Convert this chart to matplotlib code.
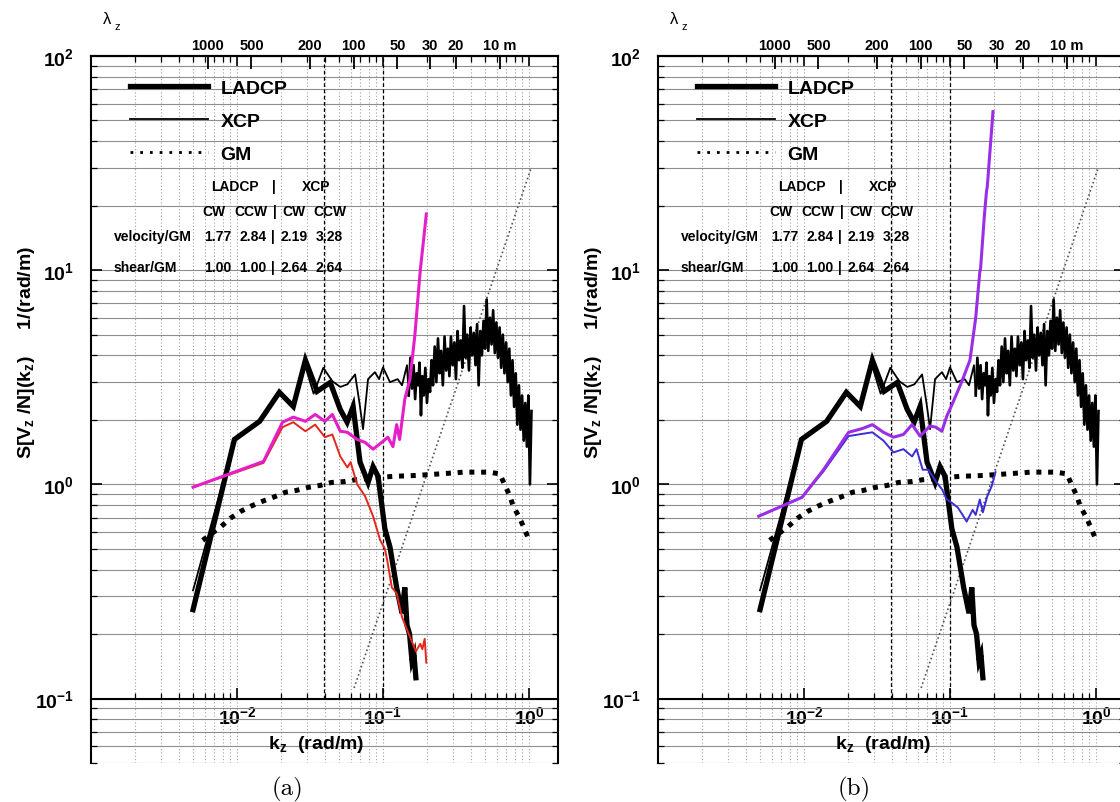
import numpy as np
import matplotlib.pyplot as plt
from matplotlib.lines import Line2D
from matplotlib.ticker import LogLocator, NullFormatter, NullLocator

plt.rcParams['font.family'] = ['Liberation Sans', 'DejaVu Sans']
plt.rcParams['font.weight'] = 'bold'
plt.rcParams['mathtext.fontset'] = 'custom'
plt.rcParams['mathtext.rm'] = 'Liberation Sans:bold'
plt.rcParams['mathtext.it'] = 'Liberation Sans:bold'
plt.rcParams['mathtext.bf'] = 'Liberation Sans:bold'
plt.rcParams['mathtext.default'] = 'rm'

# ---- data ----
# LADCP (thick black), same in both panels
k_ladcp = [0.0050, 0.0096, 0.0143, 0.0195, 0.0243, 0.0294, 0.0354, 0.0435, 0.0509,
           0.0568, 0.0624, 0.0696, 0.079, 0.0855, 0.0925, 0.103, 0.1116, 0.124,
           0.135, 0.141, 0.146, 0.152, 0.158, 0.163, 0.168]
s_ladcp = [0.26, 1.62, 1.97, 2.69, 2.31, 3.8, 2.72, 2.99, 2.24,
           1.95, 2.31, 1.27, 1.02, 1.21, 1.09, 0.62, 0.51, 0.33,
           0.25, 0.33, 0.22, 0.20, 0.15, 0.16, 0.125]

# XCP (thin black), low wavenumber part
k_xcp_low = [0.0050, 0.0096, 0.0143, 0.0195, 0.0243, 0.0294, 0.0335, 0.039, 0.045,
             0.051, 0.057, 0.0644, 0.069, 0.073, 0.079, 0.088, 0.094, 0.100,
             0.1116, 0.126, 0.135, 0.146, 0.150]
s_xcp_low = [0.32, 1.60, 1.95, 2.65, 2.35, 3.55, 2.65, 3.50, 3.03,
             2.85, 2.93, 3.26, 2.4, 1.81, 3.1, 3.34, 3.1, 3.52,
             3.0, 3.1, 2.9, 3.6, 2.6]
# XCP, noisy high wavenumber part
k_xcp_high = [0.150, 0.154, 0.158, 0.162, 0.166, 0.170, 0.174, 0.178, 0.182, 0.186,
              0.190, 0.195, 0.200, 0.205, 0.210, 0.215, 0.220, 0.226, 0.232, 0.238,
              0.244, 0.250, 0.257, 0.264, 0.271, 0.278, 0.285, 0.292, 0.300, 0.308,
              0.316, 0.324, 0.332, 0.341, 0.350, 0.359, 0.368, 0.378, 0.388, 0.398,
              0.408, 0.419, 0.430, 0.441, 0.452, 0.464, 0.476, 0.488, 0.500, 0.513,
              0.526, 0.540, 0.554, 0.568, 0.583, 0.598, 0.613, 0.629, 0.645, 0.662,
              0.679, 0.697, 0.715, 0.733, 0.752, 0.771, 0.791, 0.811, 0.832, 0.853,
              0.875, 0.897, 0.920, 0.943, 0.967, 0.990, 1.015, 1.040]
s_xcp_high = [2.6, 3.9, 2.8, 3.6, 2.5, 3.3, 2.9, 3.7, 2.1, 3.2,
              2.6, 3.5, 2.4, 3.1, 2.7, 3.8, 2.9, 4.4, 3.0, 4.8,
              3.3, 4.2, 2.9, 4.9, 3.4, 4.3, 3.2, 4.9, 3.6, 4.6,
              3.1, 5.2, 3.8, 4.7, 3.5, 6.8, 3.9, 5.0, 3.4, 5.4,
              4.0, 5.1, 3.6, 5.6, 2.9, 5.2, 4.0, 5.8, 4.3, 7.3,
              4.2, 6.0, 4.5, 6.5, 4.1, 5.7, 3.9, 5.4, 3.5, 5.0,
              3.3, 4.6, 3.0, 4.3, 2.6, 3.8, 2.3, 3.3, 1.9, 2.9,
              1.8, 2.6, 1.6, 2.4, 1.5, 2.6, 1.0, 2.2]

# GM model spectrum
k_gm = [0.00582, 0.0078, 0.0090, 0.0106, 0.0124, 0.0149, 0.0177, 0.0214, 0.0255,
        0.0308, 0.0372, 0.0442, 0.0542, 0.0644, 0.085, 0.117, 0.168, 0.249,
        0.357, 0.53, 0.63, 0.68, 0.74, 0.78, 0.86, 0.93, 1.0]
s_gm = [0.548, 0.636, 0.694, 0.748, 0.79, 0.833, 0.87, 0.918, 0.937,
        0.968, 0.989, 1.02, 1.03, 1.05, 1.07, 1.09, 1.10, 1.12,
        1.14, 1.14, 1.12, 1.0, 0.88, 0.79, 0.70, 0.62, 0.55]

# k^2 reference line
k_k2 = [0.0634, 1.04]
s_k2 = [0.112, 30.3]

# vertical marker wavenumbers
k_marks = [0.0395, 0.1]

# panel (a) coloured spectra
k_mag_a = [0.0050, 0.0152, 0.0205, 0.0243, 0.0294, 0.0343, 0.040, 0.045, 0.051,
           0.057, 0.0665, 0.0754, 0.0855, 0.098, 0.108, 0.117, 0.124, 0.130,
           0.141, 0.153, 0.165, 0.180, 0.190, 0.198]
s_mag_a = [0.97, 1.28, 1.95, 2.06, 1.97, 2.12, 1.97, 2.12, 1.77,
           1.75, 1.62, 1.57, 1.46, 1.57, 1.66, 1.5, 1.9, 1.62,
           2.5, 3.1, 4.9, 10.0, 14.0, 18.3]
k_red_a = [0.0050, 0.0152, 0.0205, 0.0243, 0.0294, 0.0343, 0.040, 0.045, 0.051,
           0.057, 0.060, 0.0665, 0.0754, 0.0855, 0.0955, 0.103, 0.107, 0.115,
           0.124, 0.135, 0.146, 0.155, 0.168, 0.180, 0.186, 0.193, 0.198]
s_red_a = [0.97, 1.26, 1.85, 1.95, 1.77, 1.9, 1.66, 1.71, 1.35,
           1.2, 1.27, 1.0, 0.88, 0.71, 0.55, 0.5, 0.44, 0.33,
           0.31, 0.24, 0.21, 0.19, 0.166, 0.18, 0.17, 0.19, 0.147]

# panel (b) coloured spectra
k_pur_b = [0.0049, 0.0097, 0.0136, 0.0202, 0.0250, 0.0294, 0.035, 0.041, 0.048,
           0.055, 0.0624, 0.073, 0.080, 0.088, 0.095, 0.105, 0.12, 0.137,
           0.150, 0.160, 0.162, 0.172, 0.178, 0.180, 0.197]
s_pur_b = [0.71, 0.87, 1.17, 1.75, 1.82, 1.9, 1.75, 1.66, 1.71,
           1.9, 1.68, 1.87, 1.85, 1.77, 2.08, 2.42, 3.0, 3.8,
           6.0, 9.8, 10.2, 18.0, 23.5, 24.5, 55.0]
k_blu_b = [0.0049, 0.0097, 0.0136, 0.0202, 0.0250, 0.0294, 0.035, 0.041, 0.048,
           0.055, 0.059, 0.065, 0.071, 0.081, 0.088, 0.095, 0.103, 0.113,
           0.122, 0.130, 0.143, 0.150, 0.160, 0.168, 0.180, 0.193, 0.205]
s_blu_b = [0.71, 0.87, 1.15, 1.68, 1.72, 1.75, 1.6, 1.41, 1.46,
           1.35, 1.46, 1.17, 1.17, 1.02, 0.95, 0.85, 0.82, 0.78,
           0.72, 0.67, 0.76, 0.72, 0.85, 0.74, 0.88, 0.98, 1.14]

# axes ticks and labels
k_major = [0.01, 0.1, 1.0]
k_major_labels = ['10$^{-2}$', '10$^{-1}$', '10$^{0}$']
s_major = [0.1, 1.0, 10.0, 100.0]
s_major_labels = ['10$^{-1}$', '10$^{0}$', '10$^{1}$', '10$^{2}$']
lam_ticks = [1000, 500, 200, 100, 50, 30, 20, 10]
lam_labels = ['1000', '500', '200', '100', '50', '30', '20', '10 m']

legend_labels = ['LADCP', 'XCP', 'GM']
table_head = ['LADCP', '|', 'XCP']
table_sub = ['CW', 'CCW', '|', 'CW', 'CCW']
row_names = ['velocity/GM', 'shear/GM']
ratios = [['1.77', '2.84', '2.19', '3.28'], ['1.00', '1.00', '2.64', '2.64']]

# ---- figure ----
W, H = 1120, 803
fig = plt.figure(figsize=(W / 100, H / 100), dpi=100)


def fx(px):
    return px / W


def fy(py):
    return 1 - py / H


AX_TOP, AX_BOT, AX_W = 57, 764, 467


def draw_panel(x0, coloured, caption):
    ax = fig.add_axes([fx(x0), fy(AX_BOT), AX_W / W, (AX_BOT - AX_TOP) / H])
    ax.set_xscale('log')
    ax.set_yscale('log')

    # grid: solid grey horizontals, dotted vertical lines
    ax.grid(True, which='both', axis='y', color='#8e8e8e', lw=0.8, ls='-')
    ax.grid(True, which='both', axis='x', color='#a0a0a0', lw=0.8, ls=(0, (1, 2)))
    ax.set_axisbelow(True)

    ax.vlines(k_marks, 0.1, 100, colors='k', lw=0.9, linestyles=(0, (3, 2)), zorder=2)
    ax.plot(k_k2, s_k2, color='#555555', lw=1.2, ls=(0, (1, 1.6)), zorder=2)
    ax.plot(k_gm, s_gm, color='k', lw=3.6, ls=(0, (1, 1.35)),
            dash_capstyle='butt', zorder=3)
    ax.plot(k_ladcp, s_ladcp, color='k', lw=3.8, solid_joinstyle='miter', zorder=4)
    ax.plot(k_xcp_low, s_xcp_low, color='k', lw=1.3, zorder=4)
    ax.plot(k_xcp_high, s_xcp_high, color='k', lw=1.9, zorder=4)
    for kk, ss, col, lw in coloured:
        ax.plot(kk, ss, color=col, lw=lw, zorder=5)

    ax.set_xlim(0.001, 1.58)
    ax.set_ylim(0.05, 100)

    ax.spines['bottom'].set_position(('data', 0.1))
    for sp in ax.spines.values():
        sp.set_linewidth(1.5)

    ax.set_xticks(k_major, labels=k_major_labels)
    ax.set_yticks(s_major, labels=s_major_labels)
    ax.xaxis.set_minor_locator(LogLocator(base=10, subs=np.arange(2, 10), numticks=20))
    ax.yaxis.set_minor_locator(LogLocator(base=10, subs=np.arange(2, 10), numticks=20))
    ax.xaxis.set_minor_formatter(NullFormatter())
    ax.yaxis.set_minor_formatter(NullFormatter())

    # top wavelength axis
    ax2 = ax.twiny()
    ax2.set_xscale('log')
    ax2.set_xlim(ax.get_xlim())
    ax2.set_xticks([2 * np.pi / l for l in lam_ticks], labels=lam_labels)
    ax2.xaxis.set_minor_locator(NullLocator())
    ax2.tick_params(axis='x', direction='in', length=9, width=1.3, pad=3, labelsize=10.5)
    for sp in ['bottom', 'left', 'right']:
        ax2.spines[sp].set_visible(False)
    ax2.spines['top'].set_linewidth(1.5)

    ax.tick_params(axis='both', which='both', direction='in', top=True, right=True)
    ax.tick_params(axis='both', which='major', length=8, width=1.2)
    ax.tick_params(axis='both', which='minor', length=4, width=0.9)
    ax.tick_params(axis='x', which='major', labelsize=14, pad=5)
    ax.tick_params(axis='y', which='major', labelsize=14, pad=12)

    # legend
    handles = [Line2D([], [], color='k', lw=3.8),
               Line2D([], [], color='k', lw=1.3),
               Line2D([], [], color='k', lw=2.0, ls=(0, (1, 2.5)))]
    ax.legend(handles, legend_labels, loc='upper left',
              bbox_to_anchor=((130 - 91) / AX_W, 1 - (80 - AX_TOP) / (AX_BOT - AX_TOP)),
              frameon=False, fontsize=14, handlelength=4.0, handletextpad=0.65,
              labelspacing=0.8, borderpad=0, borderaxespad=0)

    # ratio table
    off = x0 - 91
    tkw = dict(fontsize=10, fontweight='bold', va='center')
    for txt, xc in zip(table_head, [235, 274, 316]):
        fig.text(fx(xc + off), fy(187), txt, ha='center', **tkw)
    for txt, xc in zip(table_sub, [214, 251, 275, 294, 330]):
        fig.text(fx(xc + off), fy(212), txt, ha='center', **tkw)
    for name, vals, yc in zip(row_names, ratios, [237, 268]):
        fig.text(fx(114 + off), fy(yc), name, ha='left', **tkw)
        for txt, xc in zip(vals[:2] + ['|'] + vals[2:], [218, 253, 273, 294, 329]):
            fig.text(fx(xc + off), fy(yc), txt, ha='center', **tkw)

    # axis labels
    fig.text(fx(107 + off), fy(19), '\u03bb', fontsize=12, fontweight='normal',
             ha='center', va='center')
    fig.text(fx(117 + off), fy(27), 'z', fontsize=8, fontweight='normal',
             ha='center', va='center')
    fig.text(fx(316 + off), fy(745), 'k$_z$  (rad/m)', fontsize=14,
             ha='center', va='center')
    fig.text(fx(27 + off), fy(352), 'S[V$_z$ /N](k$_z$)     1/(rad/m)', fontsize=14,
             rotation=90, ha='center', va='center')
    fig.text(fx(287 + off), fy(789), caption, fontsize=18, family='cmr10',
             fontweight='normal', ha='center', va='center')
    return ax


draw_panel(91, [(k_red_a, s_red_a, '#e4261c', 1.4),
                (k_mag_a, s_mag_a, '#e61ec8', 2.2)], '(a)')
draw_panel(658, [(k_blu_b, s_blu_b, '#3c2ed6', 1.4),
                 (k_pur_b, s_pur_b, '#9a2ee6', 2.2)], '(b)')

fig.savefig('out.png', dpi=100)
